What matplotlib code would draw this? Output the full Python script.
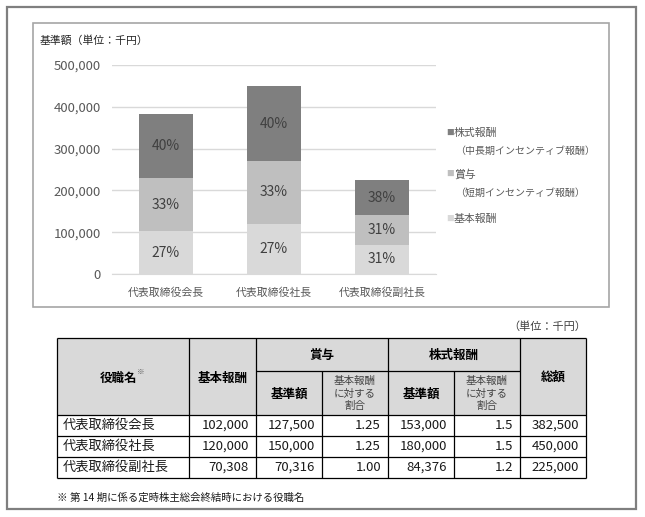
import matplotlib
matplotlib.use("Agg")
import matplotlib.pyplot as plt
from matplotlib.patches import Rectangle

plt.rcParams['font.family'] = ['Noto Sans CJK JP', 'DejaVu Sans']

# ---------------- data ----------------
categories = ["代表取締役会長", "代表取締役社長", "代表取締役副社長"]
base_pay = [102000, 120000, 70308]
bonus_pay = [127500, 150000, 70316]
stock_pay = [153000, 180000, 84376]
base_pct = ["27%", "27%", "31%"]
bonus_pct = ["33%", "33%", "31%"]
stock_pct = ["40%", "40%", "38%"]
bonus_ratio = ["1.25", "1.25", "1.00"]
stock_ratio = ["1.5", "1.5", "1.2"]
totals = [382500, 450000, 225000]
y_ticks = [0, 100000, 200000, 300000, 400000, 500000]
legend_labels = [("株式報酬", "（中長期インセンティブ報酬）"),
                 ("賞与", "（短期インセンティブ報酬）"),
                 ("基本報酬", None)]

C_STOCK, C_BONUS, C_BASE = '#7f7f7f', '#bfbfbf', '#d9d9d9'

W, H = 645, 517
fig = plt.figure(figsize=(W / 100, H / 100), dpi=100)
bg = fig.add_axes([0, 0, 1, 1])
bg.set_xlim(0, W)
bg.set_ylim(H, 0)
bg.axis('off')

# outer frame and chart box
bg.add_patch(Rectangle((7, 7), 629, 502, fill=False, ec='#7f7f7f', lw=1.6))
bg.add_patch(Rectangle((33, 23), 576, 284, fill=False, ec='#a6a6a6', lw=1.2))

# ---------------- chart ----------------
ax = fig.add_axes([112 / W, 1 - 274 / H, 324 / W, 209 / H])
ax.patch.set_alpha(0)
x = list(range(len(categories)))
bottom2 = [a + b for a, b in zip(base_pay, bonus_pay)]
b1 = ax.bar(x, base_pay, 0.5, color=C_BASE, zorder=3)
b2 = ax.bar(x, bonus_pay, 0.5, bottom=base_pay, color=C_BONUS, zorder=3)
b3 = ax.bar(x, stock_pay, 0.5, bottom=bottom2, color=C_STOCK, zorder=3)
for cont, labs in ((b1, base_pct), (b2, bonus_pct), (b3, stock_pct)):
    ax.bar_label(cont, labels=labs, label_type='center', color='#404040', fontsize=10)

ax.set_xlim(-0.5, len(categories) - 0.5)
ax.set_ylim(0, 500000)
ax.set_yticks(y_ticks)
ax.set_yticklabels([f"{v:,}" for v in y_ticks], fontsize=9.5, color='#595959')
ax.set_xticks(x)
ax.set_xticklabels(categories, fontsize=7.8, color='#595959')
ax.tick_params(axis='both', length=0)
ax.tick_params(axis='y', pad=8)
ax.tick_params(axis='x', pad=9.5)
ax.yaxis.grid(True, color='#d9d9d9', lw=1, zorder=0)
for s in ('top', 'right', 'left'):
    ax.spines[s].set_visible(False)
ax.spines['bottom'].set_color('#d9d9d9')

bg.text(40, 40, "基準額（単位：千円）", fontsize=7.8, va='center', color='#262626')

# legend (manual)
leg_colors = [C_STOCK, C_BONUS, C_BASE]
leg_y = [(133, 151), (174, 193), (219, None)]
for (l1, l2), c, (y1, y2) in zip(legend_labels, leg_colors, leg_y):
    bg.text(446, y1, "■", color=c, fontsize=5.5, va='center')
    bg.text(454, y1, l1, color='#595959', fontsize=7.8, va='center')
    if l2:
        bg.text(455, y2, l2, color='#595959', fontsize=7.2, va='center')

# ---------------- table ----------------
cols = [57, 189, 256, 322, 388, 454, 520, 586]
rt, rmid, rh = 338, 371, 415
rows = [415, 436, 457, 478]

bg.add_patch(Rectangle((cols[0], rt), cols[-1] - cols[0], rh - rt, fc='#d9d9d9', ec='none'))
lc = '#000000'
lw = 0.9
bg.hlines([rt, rh] + rows[1:], cols[0], cols[-1], color=lc, lw=lw)
bg.hlines([rmid], cols[2], cols[6], color=lc, lw=lw)
bg.vlines([cols[0], cols[1], cols[2], cols[4], cols[6], cols[7]], rt, rows[-1], color=lc, lw=lw)
bg.vlines([cols[3], cols[5]], rmid, rows[-1], color=lc, lw=lw)

hfs = 9
bg.text(119, 378, "役職名", ha='center', va='center', fontsize=hfs, fontweight='bold')
bg.text(137, 372, "※", ha='left', va='center', fontsize=5.5, color='#555555')
bg.text((cols[1] + cols[2]) / 2, 378, "基本報酬", ha='center', va='center', fontsize=hfs, fontweight='bold')
bg.text((cols[2] + cols[4]) / 2, 355, "賞与", ha='center', va='center', fontsize=hfs, fontweight='bold')
bg.text((cols[4] + cols[6]) / 2, 355, "株式報酬", ha='center', va='center', fontsize=hfs, fontweight='bold')
bg.text((cols[6] + cols[7]) / 2, 377, "総額", ha='center', va='center', fontsize=hfs, fontweight='bold')
for c in (2, 4):
    bg.text((cols[c] + cols[c + 1]) / 2, 394, "基準額", ha='center', va='center', fontsize=hfs, fontweight='bold')
    bg.text((cols[c + 1] + cols[c + 2]) / 2, 393.5, "基本報酬\nに対する\n割合", ha='center', va='center',
            fontsize=7.6, linespacing=1.34, color='#444444')

dfs = 9.5
for i, name in enumerate(categories):
    yc = (rows[i] + rows[i + 1]) / 2
    vals = [f"{base_pay[i]:,}", f"{bonus_pay[i]:,}", bonus_ratio[i],
            f"{stock_pay[i]:,}", stock_ratio[i], f"{totals[i]:,}"]
    bg.text(63, yc, name, ha='left', va='center', fontsize=dfs, color='#1a1a1a')
    for j, v in enumerate(vals):
        bg.text(cols[j + 2] - 7, yc, v, ha='right', va='center', fontsize=dfs, color='#1a1a1a')

bg.text(586, 327, "（単位：千円）", ha='right', va='center', fontsize=8, color='#404040')
bg.text(57, 498, "※ 第 14 期に係る定時株主総会終結時における役職名", ha='left', va='center',
        fontsize=7.5, color='#1a1a1a')

fig.savefig("out.png", dpi=100)
